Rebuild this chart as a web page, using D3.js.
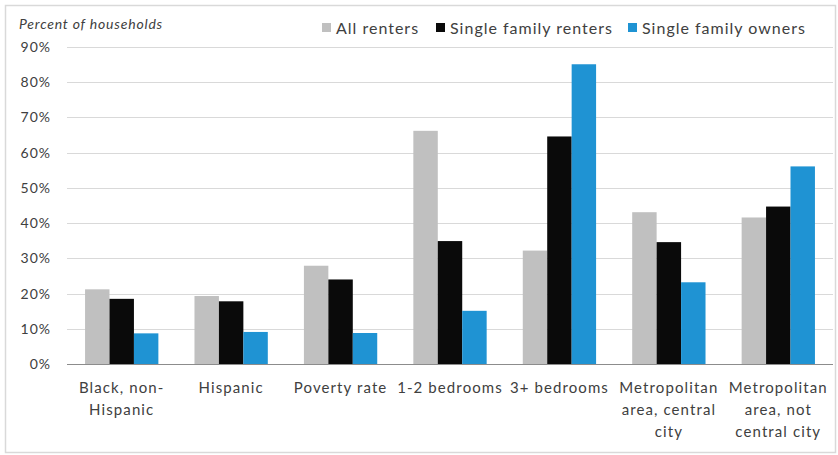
<!DOCTYPE html>
<html><head><meta charset="utf-8">
<script src="https://cdn.jsdelivr.net/npm/d3@7"></script>
<style>body{margin:0;background:#fff}svg{display:block}text{font-family:Lato,"Open Sans",sans-serif}</style>
</head><body><svg id="c" width="838" height="455"></svg>
<script>
const categories = ["Black, non-Hispanic","Hispanic","Poverty rate","1-2 bedrooms","3+ bedrooms","Metropolitan area, central city","Metropolitan area, not central city"];
const seriesNames = ["All renters","Single family renters","Single family owners"];
const allRenters = [21.2, 19.3, 27.9, 66.2, 32.2, 43.1, 41.6];
const sfRenters = [18.5, 17.8, 24.0, 34.9, 64.6, 34.6, 44.7];
const sfOwners = [8.7, 9.1, 8.8, 15.1, 85.1, 23.2, 56.1];
const yTicks = [0,10,20,30,40,50,60,70,80,90];
const colors = ["#c0c0c0","#0a0a0a","#1f93d3"];
const seriesValues = [allRenters, sfRenters, sfOwners];

const svg = d3.select("#c");
svg.append("rect").attr("x",5.5).attr("y",5.5).attr("width",830).attr("height",447)
  .attr("fill","none").attr("stroke","#d9d9d9").attr("stroke-width",1.5);

const L=67, R=833, T=47, B=364;
const y = d3.scaleLinear().domain([0,90]).range([B,T]);
const x0 = d3.scaleBand().domain(categories).range([L,R]).paddingInner(0.33).paddingOuter(0.165);
const x1 = d3.scaleBand().domain(seriesNames).range([0,x0.bandwidth()]);

// gridlines
svg.append("g").selectAll("line").data(yTicks.filter(d=>d>0)).join("line")
  .attr("x1",L).attr("x2",R).attr("y1",d=>Math.round(y(d))+0.5).attr("y2",d=>Math.round(y(d))+0.5)
  .attr("stroke","#d9d9d9").attr("stroke-width",1);

// y axis labels
const yAxis = svg.append("g").attr("transform",`translate(${L},0)`)
  .call(d3.axisLeft(y).tickValues(yTicks).tickFormat(d=>d+"%").tickSize(0).tickPadding(16));
yAxis.select(".domain").remove();
yAxis.selectAll("text").attr("font-size",14).attr("letter-spacing",1).attr("fill","#404040").attr("font-family","Lato,sans-serif");

// bars
const groups = svg.append("g").selectAll("g").data(categories).join("g")
  .attr("transform",d=>`translate(${x0(d)},0)`);
groups.selectAll("rect").data((d,i)=>seriesNames.map((s,j)=>({s, v:seriesValues[j][i], c:colors[j]}))).join("rect")
  .attr("x",d=>x1(d.s)).attr("width",x1.bandwidth())
  .attr("y",d=>y(d.v)).attr("height",d=>B-y(d.v)).attr("fill",d=>d.c);

// baseline
svg.append("line").attr("x1",L).attr("x2",R).attr("y1",B+0.5).attr("y2",B+0.5).attr("stroke","#8c8c8c").attr("stroke-width",1);

// x labels
const xAxis = svg.append("g").attr("transform",`translate(0,${B})`)
  .call(d3.axisBottom(x0).tickSize(0).tickPadding(0));
xAxis.select(".domain").remove();
xAxis.selectAll("text").attr("font-size",15).attr("letter-spacing",1.1).attr("fill","#404040").attr("font-family","Lato,sans-serif")
  .each(function(d){
    const t = d3.select(this);
    const tokens = d.split(/(?<=-)|\s+/);
    const maxW = 110;
    t.text(null);
    let lines=[], cur="";
    const meas = svg.append("text").attr("font-size",15).attr("letter-spacing",1.1).attr("font-family","Lato,sans-serif");
    tokens.forEach(tok=>{
      const sep = cur==="" ? "" : (cur.endsWith("-") ? "" : " ");
      const trial = cur+sep+tok;
      meas.text(trial);
      if(cur!=="" && meas.node().getComputedTextLength()>maxW){ lines.push(cur); cur=tok; }
      else cur=trial;
    });
    lines.push(cur); meas.remove();
    t.attr("y",0).attr("dy",null);
    lines.forEach((ln,i)=>t.append("tspan").attr("x",0).attr("y",29+i*22).text(ln));
  });

// title
svg.append("text").attr("x",19).attr("y",29).attr("font-size",14).attr("letter-spacing",0.8).attr("font-style","italic")
  .attr("fill","#404040").text("Percent of households");

// legend
const legX = [322, 436, 628];
const leg = svg.append("g").selectAll("g").data(seriesNames).join("g")
  .attr("transform",(d,i)=>`translate(${legX[i]},0)`);
leg.append("rect").attr("x",0).attr("y",23).attr("width",9).attr("height",9).attr("fill",(d,i)=>colors[i]);
leg.append("text").attr("x",14).attr("y",34).attr("font-size",16).attr("letter-spacing",1).attr("fill","#404040").text(d=>d);
</script></body></html>
